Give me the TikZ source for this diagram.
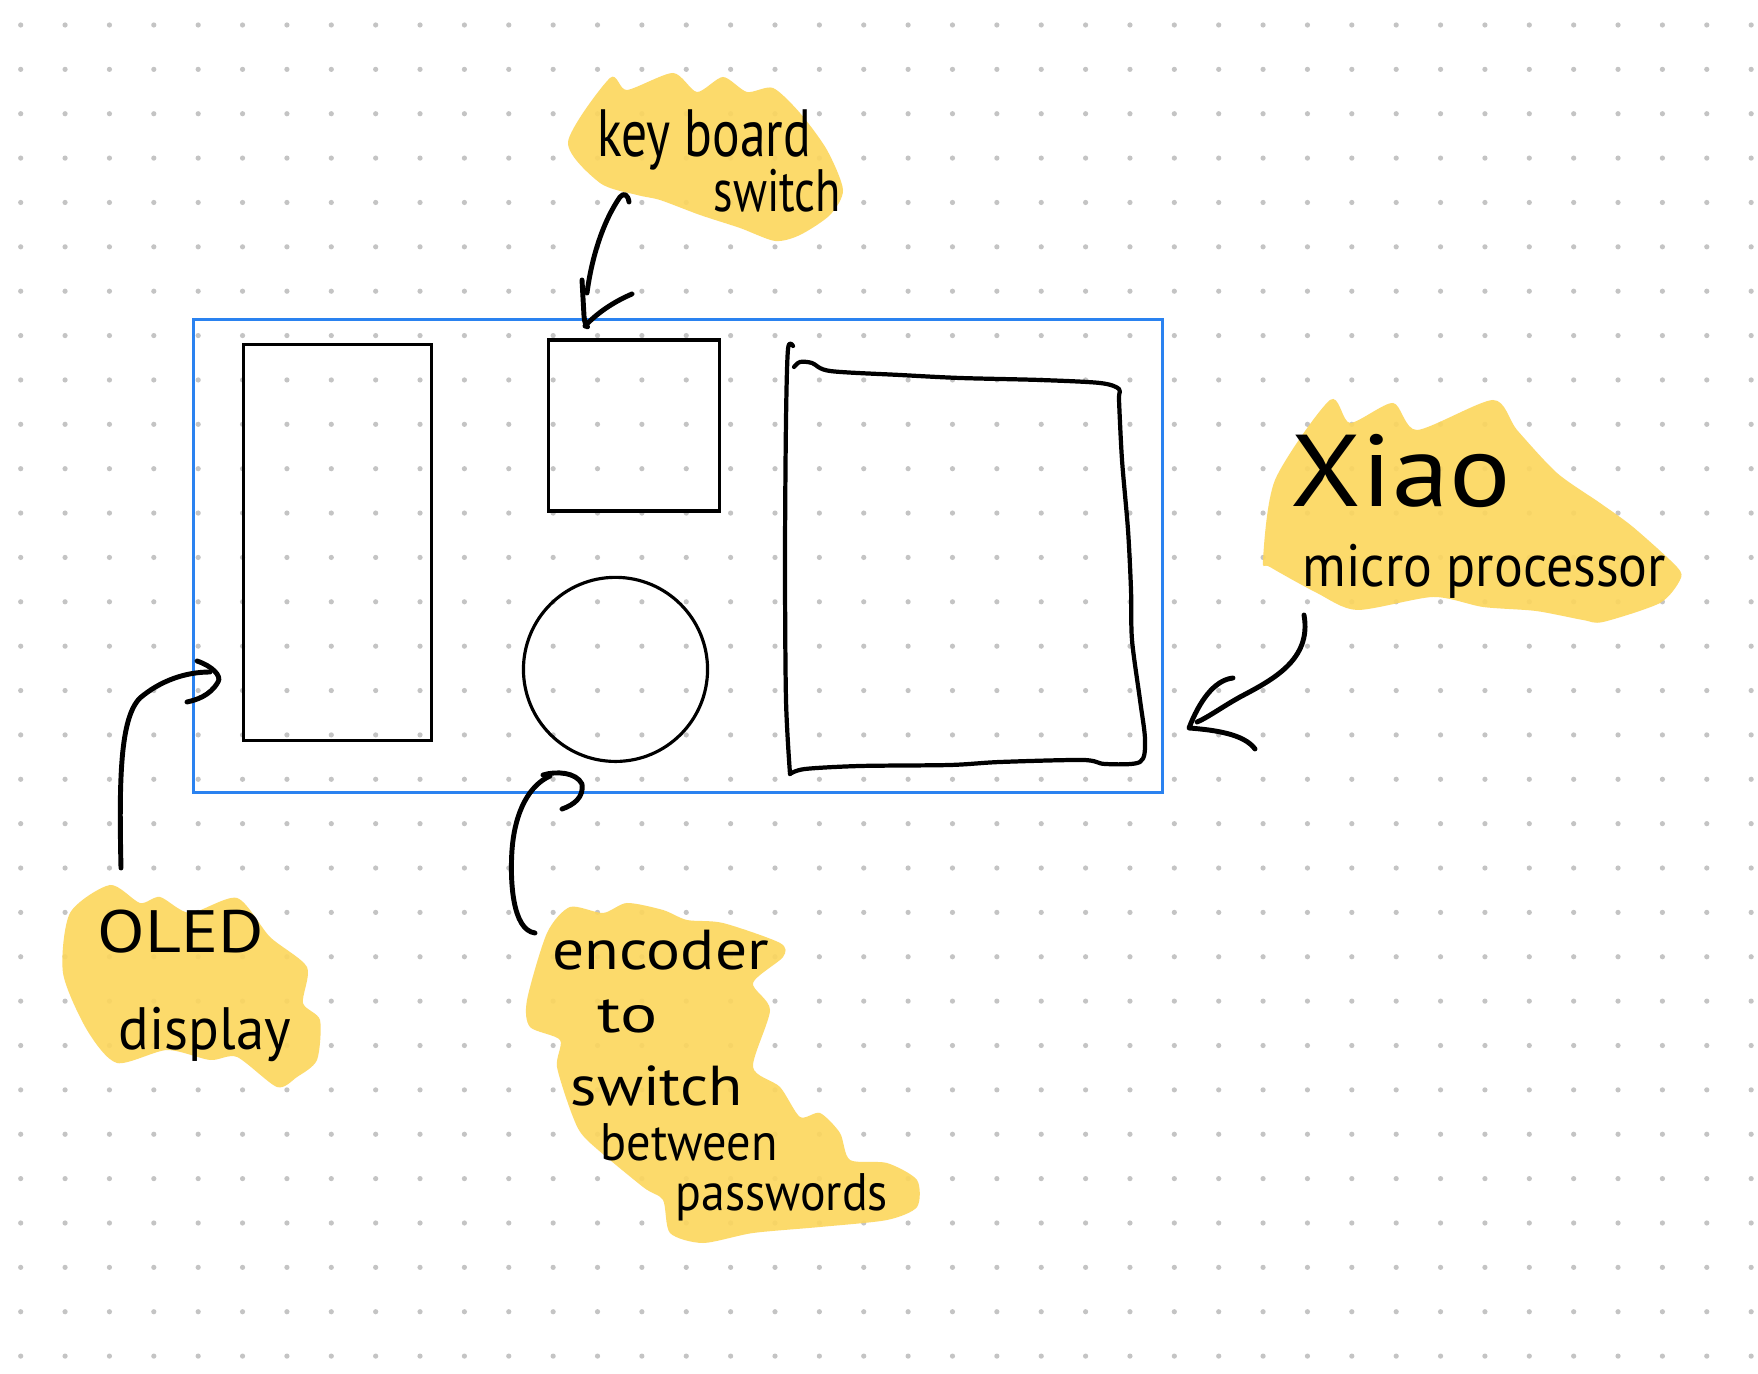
\documentclass[tikz,border=0pt]{standalone}
\usepackage{fontspec}
\usepackage{graphicx}
\newfontfamily\handfont{PT Sans}
\usetikzlibrary{positioning}

\definecolor{hilite}{RGB}{252,214,92}
\definecolor{caseblue}{RGB}{42,130,240}
\definecolor{dotgrey}{RGB}{196,196,196}

% squeeze a handwritten line to the width it has on the sketch
\newcommand{\hw}[2]{\resizebox{#1cm}{\height}{#2}}

\tikzset{
  pen/.style={line width=1.4pt, line cap=round, line join=round},
  part/.style={draw, line width=0.9pt, inner sep=0pt},
  hand/.style={inner sep=0pt, anchor=base west},
  blob/.style={fill=hilite, fill opacity=0.9},
}

\begin{document}
\begin{tikzpicture}[x=0.01cm, y=-0.01cm]
  \useasboundingbox (0,0) rectangle (1758,1374);
  \fill[white] (0,0) rectangle (1758,1374);

  % dotted paper
  \foreach \i in {0,...,39}
    \foreach \j in {0,...,30}
      \fill[dotgrey] (20.7+\i*44.37, 25+\j*44.37) circle (0.026cm);

  % highlighter patches
  \fill[blob] plot[smooth cycle, tension=0.45] coordinates {
    (568,142) (610,78) (627,90) (673,73) (697,92) (723,77) (747,92) (773,88)
    (800,113) (827,150) (843,190) (830,215) (800,235) (775,241) (740,228)
    (700,215) (660,200) (637,195) (600,183)};
  \fill[blob] plot[smooth cycle, tension=0.45] coordinates {
    (1263,560) (1275,480) (1330,400) (1350,423) (1393,403) (1417,430)
    (1493,400) (1517,430) (1557,473) (1600,503) (1633,527) (1677,567)
    (1680,580) (1660,603) (1603,622) (1583,620) (1536,611) (1483,607)
    (1433,597) (1357,610) (1317,593) (1270,567)};
  \fill[blob] plot[smooth cycle, tension=0.45] coordinates {
    (63,973) (70,913) (110,885) (140,903) (160,897) (190,913) (237,898)
    (270,937) (307,967) (303,1003) (320,1020) (317,1060) (297,1077)
    (277,1087) (237,1057) (210,1060) (167,1050) (117,1063) (87,1030)};
  \fill[blob] plot[smooth cycle, tension=0.45] coordinates {
    (527,1000) (547,933) (570,907) (603,913) (627,903) (663,910) (687,920)
    (723,923) (780,943) (783,957) (753,983) (770,1010) (753,1067)
    (780,1087) (800,1117) (820,1113) (840,1133) (850,1160) (887,1163)
    (917,1180) (917,1207) (887,1220) (820,1227) (753,1233) (703,1243)
    (670,1233) (663,1200) (643,1187) (587,1140) (573,1117) (557,1067)
    (560,1040) (530,1027)};

  % the board outline
  \node[draw=caseblue, line width=0.85pt, inner sep=0pt,
        minimum width=9.68cm, minimum height=4.73cm] (board) at (678,556) {};

  % parts on the board
  \node[part, minimum width=1.88cm, minimum height=3.95cm] (oled) at (337.5,542.5) {};
  \node[part, minimum size=1.71cm] (keysw) at (634,425.5) {};
  \node[part, circle, minimum size=1.84cm] (enc) at (615.5,669.4) {};
  \draw[pen, line width=1.2pt] plot[smooth, tension=0.5] coordinates {
    (793,346) (788,349) (786,420) (785,560) (786,700) (790,774)};
  \draw[pen, line width=1.2pt] plot[smooth, tension=0.5] coordinates {
    (790,774) (805,769) (860,766) (950,765) (1000,762) (1083,760)
    (1105,764) (1140,762) (1145,740) (1140,700) (1132,640) (1131,590)
    (1128,530) (1122,460) (1119,400) (1119,389) (1100,383) (1040,380)
    (960,378) (900,375) (830,371) (812,363) (800,362) (794,367)};

  % keyboard switch pointer
  \coordinate (kbtail) at (629,202);
  \coordinate (kbtip) at (585,326);
  \draw[pen] (kbtail) .. controls (628,195) and (624,192) .. (620,197)
    .. controls (604,220) and (592,255) .. (587,293);
  \draw[pen] (582,280) -- (584,316) .. controls (585,330) and (591,327) .. (kbtip)
    (kbtip) .. controls (600,310) and (618,300) .. (632,294);

  % microprocessor pointer
  \coordinate (mcutail) at (1304,615);
  \coordinate (mcutip) at (1189,728);
  \draw[pen] (mcutail) .. controls (1312,660) and (1272,680) .. (1240,697)
    .. controls (1222,707) and (1207,718) .. (1197,722);
  \draw[pen] (1233,678) .. controls (1214,680) and (1199,702) .. (mcutip)
    .. controls (1215,730) and (1244,734) .. (1255,749);

  % display pointer
  \coordinate (oledtail) at (121,868);
  \coordinate (oledtip) at (218,682);
  \draw[pen] (oledtail) .. controls (119,780) and (120,718) .. (140,698)
    .. controls (160,681) and (185,672) .. (210,672);
  \draw[pen] (197,661) .. controls (212,666) and (222,676) .. (oledtip)
    .. controls (210,696) and (196,700) .. (187,702);

  % encoder pointer
  \coordinate (enctail) at (535,933);
  \coordinate (enctip) at (582,784);
  \draw[pen] (enctail) .. controls (512,930) and (510,880) .. (512,850)
    .. controls (515,810) and (530,785) .. (550,776);
  \draw[pen] (543,775) .. controls (556,771) and (576,772) .. (enctip)
    .. controls (584,797) and (574,805) .. (562,809);

  % handwriting
  \node[hand, font=\handfont\fontsize{19}{22}\selectfont] (kbtxt) at (597,157) {\hw{2.13}{key board}};
  \node[hand, font=\handfont\fontsize{17}{20}\selectfont] (kbtxt2) at (713,212) {\hw{1.27}{switch}};
  \node[hand, font=\handfont\fontsize{29}{34}\selectfont] (mcutxt) at (1290,507) {\hw{2.2}{Xiao}};
  \node[hand, font=\handfont\fontsize{17}{20}\selectfont] (mcutxt2) at (1302,587) {\hw{3.63}{micro processor}};
  \node[hand, font=\handfont\fontsize{17}{20}\selectfont] (oledtxt) at (97,953) {\hw{1.66}{OLED}};
  \node[hand, font=\handfont\fontsize{17}{20}\selectfont] (oledtxt2) at (118,1050) {\hw{1.72}{display}};
  \node[hand, font=\handfont\fontsize{16}{20}\selectfont] (enctxt) at (552,970) {\hw{2.16}{encoder}};
  \node[hand, font=\handfont\fontsize{15}{18}\selectfont] (enctxt2) at (597,1033) {\hw{0.6}{to}};
  \node[hand, font=\handfont\fontsize{16}{20}\selectfont] (enctxt3) at (570,1105) {\hw{1.72}{switch}};
  \node[hand, font=\handfont\fontsize{15}{18}\selectfont] (enctxt4) at (600,1160) {\hw{1.77}{between}};
  \node[hand, font=\handfont\fontsize{15}{18}\selectfont] (enctxt5) at (675,1210) {\hw{2.12}{passwords}};
\end{tikzpicture}
\end{document}
